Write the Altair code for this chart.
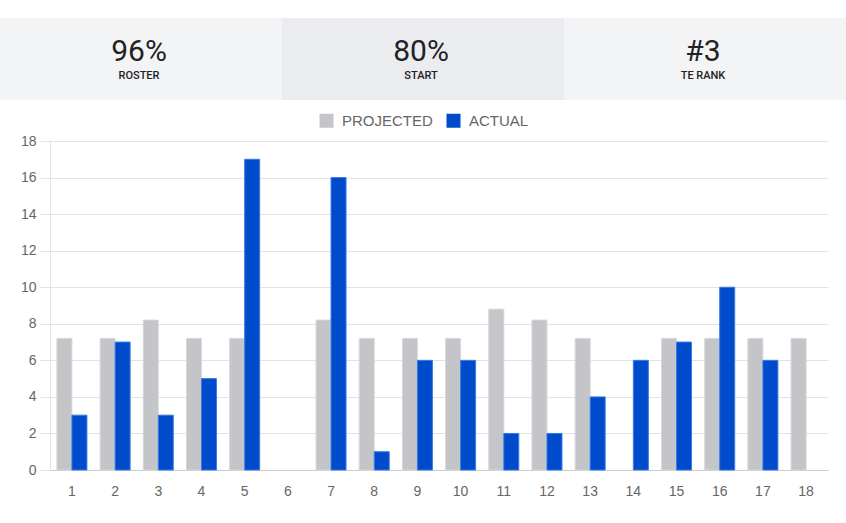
import altair as alt
import pandas as pd

weeks = list(range(1, 19))
projected = [7.2, 7.2, 8.2, 7.2, 7.2, 0, 8.2, 7.2, 7.2, 7.2, 8.8, 8.2, 7.2, 0, 7.2, 7.2, 7.2, 7.2]
actual = [3, 7, 3, 5, 17, 0, 16, 1, 6, 6, 2, 2, 4, 6, 7, 10, 6, 0]
series = ["PROJECTED", "ACTUAL"]
fills = ["#c4c5c9", "#004bcc"]
strokes = ["#d6d7da", "#3b7be3"]
y_ticks = [0, 2, 4, 6, 8, 10, 12, 14, 16, 18]

stat_values = ["96%", "80%", "#3"]
stat_labels = ["ROSTER", "START", "TE RANK"]
stat_fills = ["#f3f4f6", "#ebecf0", "#f3f4f6"]

rows = []
for w, p, a in zip(weeks, projected, actual):
    rows.append({"week": w, "series": "PROJECTED", "value": p})
    rows.append({"week": w, "series": "ACTUAL", "value": a})
df = pd.DataFrame(rows)

hdr = pd.DataFrame({"label": stat_labels, "value": stat_values})

W, H = 778, 329
PL, PT = 50, 141

hx = alt.X("label:N", sort=stat_labels,
           scale=alt.Scale(domain=stat_labels, range=[-PL, 846 - PL], paddingInner=0, paddingOuter=0),
           axis=None)

header_bg = alt.Chart(hdr).mark_rect().encode(
    x=hx,
    y=alt.value(18 - PT),
    y2=alt.value(100 - PT),
    color=alt.Color("label:N", scale=alt.Scale(domain=stat_labels, range=stat_fills), legend=None),
)
header_num = alt.Chart(hdr).mark_text(
    font="Roboto", fontSize=30, color="#222222", baseline="alphabetic", align="center", dx=-2
).encode(x=hx, y=alt.value(61 - PT), text="value:N")
header_lab = alt.Chart(hdr).mark_text(
    font="Roboto", fontSize=11, fontWeight=500, color="#222222", baseline="alphabetic", align="center", dx=-2
).encode(x=hx, y=alt.value(79 - PT), text="label:N")

header = alt.layer(header_bg, header_num, header_lab).resolve_scale(color="independent")

bars = alt.Chart(df).transform_filter("datum.value > 0").mark_bar(strokeWidth=1).encode(
    x=alt.X("week:O",
            scale=alt.Scale(domain=weeks, paddingInner=0.305, paddingOuter=0.16),
            axis=alt.Axis(title=None, labelAngle=0, ticks=False, labelPadding=14,
                          labelFontSize=14, labelColor="#666666", labelFont="Liberation Sans",
                          domainColor="#cccccc", grid=False)),
    xOffset=alt.XOffset("series:N", sort=series, scale=alt.Scale(domain=series, paddingInner=0)),
    y=alt.Y("value:Q",
            scale=alt.Scale(domain=[0, 18], nice=False),
            axis=alt.Axis(title=None, values=y_ticks, tickSize=10, tickColor="#e3e3e3",
                          labelPadding=4, labelFontSize=14, labelColor="#666666",
                          labelFont="Liberation Sans", domainColor="#e3e3e3",
                          gridColor="#e3e3e3")),
    color=alt.Color("series:N", sort=series,
                    scale=alt.Scale(domain=series, range=fills),
                    legend=alt.Legend(title=None, orient="none", legendX=269, legendY=-28,
                                      direction="horizontal", symbolType="square",
                                      symbolSize=196, symbolStrokeWidth=0,
                                      labelFontSize=15, labelColor="#666666",
                                      labelFont="Liberation Sans", labelOffset=8,
                                      columnPadding=13)),
    stroke=alt.Stroke("series:N", sort=series,
                      scale=alt.Scale(domain=series, range=strokes), legend=None),
)

chart = alt.layer(header, bars).resolve_scale(x="independent", color="independent").properties(
    width=W, height=H,
    autosize=alt.AutoSizeParams(type="none"),
    padding={"left": PL, "top": PT, "right": 846 - PL - W, "bottom": 523 - PT - H},
    background="white",
).configure_view(stroke=None)

chart.save("out.html", embed_options={"renderer": "svg", "actions": False})
